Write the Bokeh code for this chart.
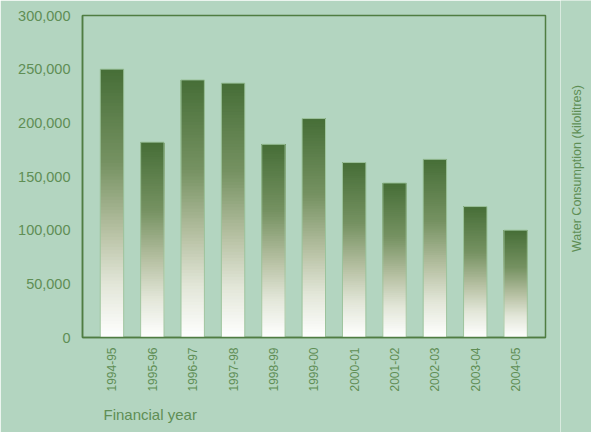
import numpy as np
from math import pi
from bokeh.plotting import figure
from bokeh.layouts import row, column
from bokeh.models import Range1d, FixedTicker, NumeralTickFormatter, Title
from bokeh.core.properties import value
from bokeh.embed import file_html
from bokeh.resources import INLINE

years = ["1994-95", "1995-96", "1996-97", "1997-98", "1998-99", "1999-00",
         "2000-01", "2001-02", "2002-03", "2003-04", "2004-05"]
consumption = [250000, 182000, 240000, 237000, 180000, 204000,
               163000, 144000, 166000, 122000, 100000]
y_ticks = [0, 50000, 100000, 150000, 200000, 250000, 300000]
x_title = "Financial year"
y_title = "Water Consumption (kilolitres)"

BG = "#b3d5c0"
TXT = "#5f8e55"
FRAME = "#4f7d42"
FONT = "Liberation Sans"

p = figure(width=560, height=432, output_backend="svg", toolbar_location=None,
           x_range=Range1d(-0.73, 10.74), y_range=Range1d(0, 300000),
           min_border_left=82, min_border_right=15, min_border_top=15, min_border_bottom=94)
p.background_fill_color = BG
p.border_fill_color = BG
p.outline_line_color = FRAME
p.outline_line_width = 1.5
p.grid.visible = False

# gradient bars: stops from top (0) to bottom (1)
stops = [(0.0, (70, 110, 55)), (0.35, (118, 146, 98)), (0.6, (182, 192, 162)),
         (0.8, (226, 230, 216)), (1.0, (255, 255, 255))]
def grad(t):
    for (t0, c0), (t1, c1) in zip(stops[:-1], stops[1:]):
        if t <= t1:
            f = (t - t0) / (t1 - t0)
            return "#%02x%02x%02x" % tuple(int(round(a + (b - a) * f)) for a, b in zip(c0, c1))
    return "#ffffff"

N = 80
W = 0.58
xs = np.arange(len(years))
L, R, B, T, C = [], [], [], [], []
for i in range(N):
    for x, v in zip(xs, consumption):
        L.append(x - W / 2); R.append(x + W / 2)
        B.append(v * i / N); T.append(v)
        C.append(grad(1 - (i + 0.5) / N))
p.quad(left=L, right=R, bottom=B, top=T, fill_color=C, line_color=None)
p.quad(left=xs - W / 2, right=xs + W / 2, bottom=0, top=consumption,
       fill_color=None, line_color="#9cc39c", line_width=1)

ax = p.xaxis[0]
ax.ticker = FixedTicker(ticks=list(xs))
ax.major_label_overrides = {int(i): y for i, y in zip(xs, years)}
ax.major_label_orientation = pi / 2
ax.major_tick_line_color = None
ax.minor_tick_line_color = None
ax.major_tick_out = 0
ax.major_tick_in = 0
ax.minor_tick_out = 0
ax.minor_tick_in = 0
ax.axis_line_color = FRAME
ax.axis_line_width = 1.5
ax.major_label_text_font = FONT
ax.major_label_text_font_size = "12px"
ax.major_label_text_color = TXT
ax.major_label_standoff = 10

ay = p.yaxis[0]
ay.ticker = FixedTicker(ticks=y_ticks)
ay.formatter = NumeralTickFormatter(format="0,0")
ay.major_tick_line_color = None
ay.minor_tick_line_color = None
ay.major_tick_out = 0
ay.major_tick_in = 0
ay.minor_tick_out = 0
ay.minor_tick_in = 0
ay.axis_line_color = FRAME
ay.axis_line_width = 1.5
ay.major_label_text_font = FONT
ay.major_label_text_font_size = "14.5px"
ay.major_label_text_color = TXT
ay.major_label_standoff = 12

p.add_layout(Title(text=x_title, align="left", offset=21, standoff=19,
                   text_font=FONT, text_font_size="15px", text_font_style="normal",
                   text_color=TXT), "below")

# right strip with the y title (reads bottom to top)
side = figure(width=31, height=432, output_backend="svg", toolbar_location=None,
              x_range=Range1d(0, 31), y_range=Range1d(0, 432),
              x_axis_type=None, y_axis_type=None, min_border=0)
side.background_fill_color = BG
side.border_fill_color = BG
side.outline_line_color = None
side.grid.visible = False
side.text(x=[16], y=[264], text=[y_title], angle=pi / 2, text_font=value(FONT),
          text_font_size="12.5px", text_color=TXT, text_align="center", text_baseline="middle")

layout = row(column(p, spacing=0), side, spacing=0)
open("out.html", "w").write(file_html(layout, INLINE))
